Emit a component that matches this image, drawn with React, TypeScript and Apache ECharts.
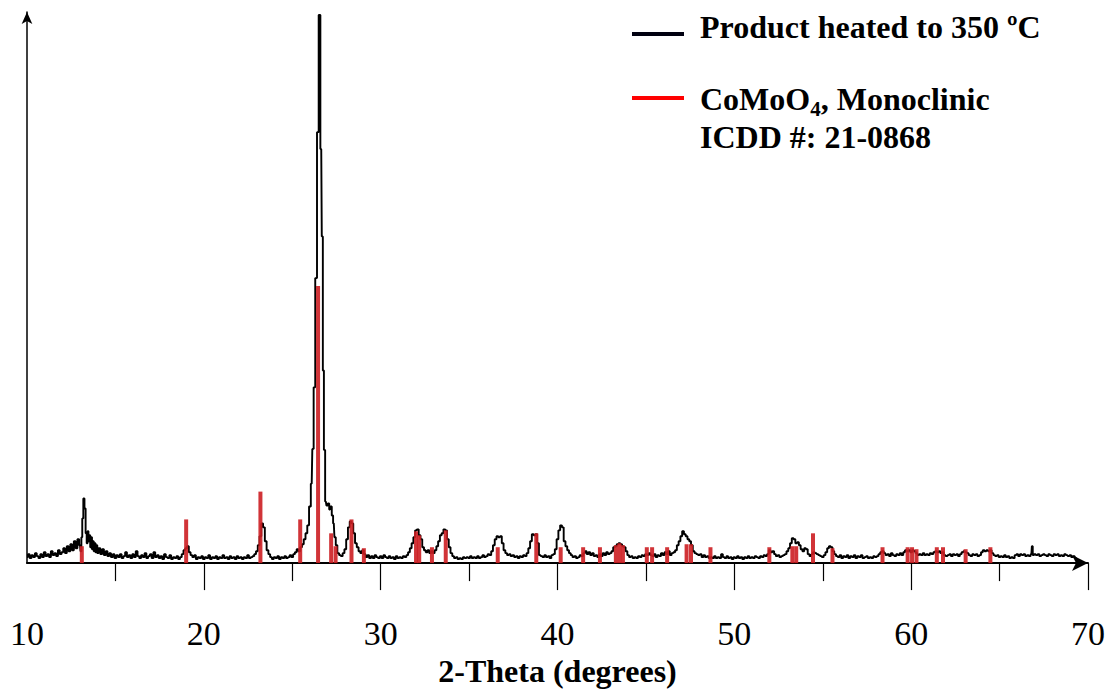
import React, { useEffect, useRef } from "react";
import * as echarts from "echarts";

// Measured XRD trace: [2-theta (deg), intensity (a.u.)]
const trace: [number, number][] = [
  [10.0,6],[10.1,9],[10.2,5],[10.3,8],[10.4,6],[10.5,10],[10.6,7],[10.7,5],[10.8,9],[10.9,6],
  [11.0,11],[11.1,7],[11.2,9],[11.3,6],[11.4,12],[11.5,8],[11.6,10],[11.7,7],[11.8,13],[11.9,9],
  [12.0,11],[12.1,15],[12.2,10],[12.3,17],[12.4,12],[12.5,19],[12.6,13],[12.7,22],[12.8,15],[12.9,24],
  [13.0,18],[13.05,12],[13.1,26],[13.15,45],[13.22,65],[13.28,55],[13.35,30],[13.4,20],[13.45,32],[13.5,22],
  [13.55,28],[13.6,16],[13.65,26],[13.7,14],[13.75,22],[13.8,12],[13.85,20],[13.9,11],[13.95,18],[14.0,10],
  [14.1,15],[14.2,9],[14.3,14],[14.4,8],[14.5,12],[14.6,7],[14.7,10],[14.8,6],[14.9,9],[15.0,5],
  [15.1,8],[15.2,6],[15.3,9],[15.4,5],[15.5,7],[15.6,11],[15.7,6],[15.8,8],[15.9,5],[16.0,9],
  [16.1,6],[16.2,12],[16.3,7],[16.4,5],[16.5,8],[16.6,6],[16.7,10],[16.8,5],[16.9,7],[17.0,9],
  [17.1,5],[17.2,11],[17.3,6],[17.4,8],[17.5,5],[17.6,7],[17.7,4],[17.8,9],[17.9,6],[18.0,5],
  [18.1,8],[18.2,4],[18.3,6],[18.4,5],[18.5,7],[18.6,4],[18.7,6],[18.8,9],[18.9,13],[19.0,15],
  [19.1,17],[19.2,11],[19.3,8],[19.4,6],[19.5,8],[19.6,4],[19.7,6],[19.8,5],[19.9,7],[20.0,4],
  [20.1,6],[20.2,5],[20.3,8],[20.4,4],[20.5,6],[20.6,5],[20.7,7],[20.8,4],[20.9,6],[21.0,5],
  [21.1,8],[21.2,5],[21.3,6],[21.4,4],[21.5,7],[21.6,5],[21.7,6],[21.8,4],[21.9,7],[22.0,5],
  [22.1,6],[22.2,4],[22.3,6],[22.4,5],[22.5,8],[22.6,5],[22.7,6],[22.8,7],[22.9,9],[23.0,12],
  [23.1,18],[23.2,27],[23.3,40],[23.4,36],[23.5,22],[23.6,13],[23.7,9],[23.8,6],[23.9,4],[24.0,6],
  [24.1,5],[24.2,7],[24.3,4],[24.4,6],[24.5,5],[24.6,7],[24.7,5],[24.8,6],[24.9,8],[25.0,6],
  [25.1,9],[25.2,11],[25.3,14],[25.4,12],[25.5,16],[25.6,19],[25.7,24],[25.8,30],[25.9,38],[26.0,57],
  [26.1,80],[26.17,115],[26.25,177],[26.35,287],[26.45,434],[26.54,552],[26.64,417],[26.7,329],[26.76,194],[26.82,114],
  [26.9,62],[26.97,58],[27.05,60],[27.13,54],[27.2,57],[27.27,48],[27.35,40],[27.42,26],[27.5,18],[27.6,10],
  [27.7,8],[27.8,7],[27.9,10],[28.0,14],[28.1,24],[28.2,36],[28.3,42],[28.4,40],[28.5,30],[28.6,20],
  [28.7,16],[28.8,12],[28.9,10],[29.0,13],[29.1,9],[29.2,6],[29.3,8],[29.4,5],[29.5,7],[29.6,5],
  [29.7,8],[29.8,6],[29.9,5],[30.0,7],[30.1,5],[30.2,8],[30.3,6],[30.4,5],[30.5,7],[30.6,5],
  [30.7,6],[30.8,4],[30.9,7],[31.0,5],[31.1,6],[31.2,5],[31.3,7],[31.4,6],[31.5,8],[31.6,11],
  [31.7,15],[31.8,20],[31.9,26],[32.0,33],[32.1,34],[32.2,28],[32.3,24],[32.4,16],[32.5,13],[32.6,11],
  [32.7,13],[32.8,10],[32.9,12],[33.0,10],[33.1,13],[33.2,17],[33.3,22],[33.4,28],[33.5,30],[33.6,34],
  [33.7,33],[33.8,24],[33.9,16],[34.0,10],[34.1,7],[34.2,5],[34.3,6],[34.4,4],[34.5,5],[34.6,4],
  [34.7,6],[34.8,5],[34.9,6],[35.0,5],[35.1,7],[35.2,5],[35.3,6],[35.4,5],[35.5,7],[35.6,5],
  [35.7,6],[35.8,8],[35.9,6],[36.0,7],[36.1,9],[36.2,8],[36.3,12],[36.4,18],[36.5,24],[36.6,27],
  [36.7,26],[36.8,27],[36.9,20],[37.0,13],[37.1,10],[37.2,8],[37.3,9],[37.4,7],[37.5,8],[37.6,6],
  [37.7,7],[37.8,5],[37.9,7],[38.0,6],[38.1,8],[38.2,7],[38.3,10],[38.4,15],[38.5,22],[38.6,29],
  [38.7,28],[38.8,29],[38.9,20],[39.0,8],[39.1,7],[39.2,6],[39.3,8],[39.4,6],[39.5,7],[39.6,5],
  [39.7,8],[39.8,9],[39.9,14],[40.0,24],[40.1,33],[40.2,38],[40.3,36],[40.4,22],[40.5,17],[40.6,13],
  [40.7,10],[40.8,8],[40.9,6],[41.0,7],[41.1,5],[41.2,6],[41.3,8],[41.4,7],[41.5,10],[41.6,12],
  [41.7,9],[41.8,11],[41.9,8],[42.0,10],[42.1,7],[42.2,8],[42.3,6],[42.4,9],[42.5,7],[42.6,10],
  [42.7,8],[42.8,11],[42.9,9],[43.0,10],[43.1,12],[43.2,16],[43.3,17],[43.4,19],[43.5,20],[43.6,19],
  [43.7,17],[43.8,16],[43.9,12],[44.0,8],[44.1,6],[44.2,7],[44.3,5],[44.4,6],[44.5,5],[44.6,7],
  [44.7,6],[44.8,8],[44.9,7],[45.0,9],[45.1,8],[45.2,10],[45.3,8],[45.4,7],[45.5,9],[45.6,6],
  [45.7,8],[45.8,7],[45.9,10],[46.0,8],[46.1,11],[46.2,9],[46.3,12],[46.4,8],[46.5,10],[46.6,11],
  [46.7,13],[46.8,18],[46.9,22],[47.0,27],[47.1,32],[47.2,29],[47.3,27],[47.4,24],[47.5,22],[47.6,18],
  [47.7,12],[47.8,10],[47.9,9],[48.0,8],[48.1,9],[48.2,6],[48.3,8],[48.4,6],[48.5,7],[48.6,5],
  [48.7,6],[48.8,5],[48.9,7],[49.0,5],[49.1,6],[49.2,5],[49.3,9],[49.4,6],[49.5,5],[49.6,7],
  [49.7,5],[49.8,6],[49.9,4],[50.0,6],[50.1,5],[50.2,7],[50.3,5],[50.4,6],[50.5,4],[50.6,6],
  [50.7,5],[50.8,7],[50.9,5],[51.0,6],[51.1,5],[51.2,7],[51.3,6],[51.4,5],[51.5,7],[51.6,6],
  [51.7,8],[51.8,7],[51.9,9],[52.0,13],[52.1,11],[52.2,12],[52.3,9],[52.4,7],[52.5,8],[52.6,6],
  [52.7,7],[52.8,8],[52.9,9],[53.0,12],[53.1,15],[53.2,20],[53.3,25],[53.4,24],[53.5,20],[53.6,21],
  [53.7,18],[53.8,14],[53.9,12],[54.0,15],[54.1,14],[54.2,9],[54.3,7],[54.4,9],[54.5,11],[54.6,10],
  [54.7,9],[54.8,8],[54.9,7],[55.0,6],[55.1,8],[55.2,11],[55.3,15],[55.4,17],[55.5,16],[55.6,12],
  [55.7,9],[55.8,7],[55.9,6],[56.0,8],[56.1,5],[56.2,7],[56.3,6],[56.4,8],[56.5,5],[56.6,7],
  [56.7,6],[56.8,8],[56.9,5],[57.0,7],[57.1,6],[57.2,8],[57.3,5],[57.4,6],[57.5,7],[57.6,5],
  [57.7,6],[57.8,5],[57.9,7],[58.0,6],[58.1,7],[58.2,9],[58.3,11],[58.4,12],[58.5,10],[58.6,8],
  [58.7,9],[58.8,7],[58.9,10],[59.0,8],[59.1,7],[59.2,9],[59.3,8],[59.4,10],[59.5,8],[59.6,11],
  [59.7,13],[59.8,12],[59.9,13],[60.0,11],[60.1,13],[60.2,12],[60.3,10],[60.4,8],[60.5,9],[60.6,8],
  [60.7,10],[60.8,8],[60.9,9],[61.0,8],[61.1,10],[61.2,9],[61.3,11],[61.4,12],[61.5,11],[61.6,12],
  [61.7,10],[61.8,11],[61.9,8],[62.0,7],[62.1,8],[62.2,9],[62.3,7],[62.4,9],[62.5,8],[62.6,9],
  [62.7,7],[62.8,9],[62.9,11],[63.0,12],[63.1,11],[63.2,10],[63.3,8],[63.4,7],[63.5,9],[63.6,8],
  [63.7,9],[63.8,7],[63.9,8],[64.0,11],[64.1,13],[64.2,12],[64.3,13],[64.4,12],[64.5,13],[64.6,10],
  [64.7,8],[64.8,7],[64.9,8],[65.0,6],[65.1,7],[65.2,6],[65.3,8],[65.4,6],[65.5,7],[65.6,5],
  [65.7,6],[65.8,5],[65.9,8],[66.0,9],[66.1,7],[66.2,9],[66.3,8],[66.4,9],[66.5,7],[66.6,8],
  [66.7,7],[66.8,9],[66.85,17],[66.9,8],[67.0,9],[67.1,8],[67.2,9],[67.3,7],[67.4,8],[67.5,9],
  [67.6,8],[67.7,7],[67.8,9],[67.9,8],[68.0,7],[68.1,9],[68.2,8],[68.3,9],[68.4,7],[68.5,8],
  [68.6,7],[68.7,9],[68.8,8],[68.9,7],[69.0,8],[69.1,6],[69.2,7],[69.3,5],[69.4,4],
];

// ICDD 21-0868 reference sticks: [2-theta, relative intensity]
const sticks: [number, number][] = [
  [13.1,17],[19.0,44],[23.2,72],[25.45,44],[26.46,279],[27.2,30],[27.45,17],[28.35,44],[29.05,15],
  [32.0,32],[32.18,28],[32.9,16],[33.68,33],[36.62,16],[38.8,30],[40.18,16],[41.45,16],[42.4,16],
  [43.3,18],[43.5,20],[43.7,18],[45.05,16],[45.35,16],[46.2,16],[47.3,19],[47.55,19],[48.65,16],
  [51.98,16],[53.28,17],[53.5,17],[54.45,30],[55.55,15],[58.38,16],[59.8,16],[60.05,16],[60.3,14],
  [61.45,16],[61.8,16],[63.08,14],[64.48,16],
];

const xTickValues = [20, 30, 40, 50, 60, 70];
const xLabelValues = [10, 20, 30, 40, 50, 60, 70];
const legendLabels = ["Product heated to 350 ºC", "CoMoO", "4", ", Monoclinic", "ICDD #: 21-0868"];
const axisTitle = "2-Theta (degrees)";

const SERIF = "'Liberation Serif', 'Times New Roman', serif";

function textWidth(t: string, font: string): number {
  const c = document.createElement("canvas").getContext("2d");
  if (!c) return t.length * 16;
  c.font = font;
  return c.measureText(t).width;
}

export default function App() {
  const ref = useRef<HTMLDivElement>(null);
  useEffect(() => {
    if (!ref.current) return;
    const chart = echarts.init(ref.current, null, { renderer: "svg" });
    const bigFont = `bold 32px ${SERIF}`;
    const w1 = textWidth(legendLabels[1], bigFont);
    const w2 = textWidth(legendLabels[2], `bold 21px ${SERIF}`);
    const lx = 700;
    chart.setOption({
      animation: false,
      backgroundColor: "#fff",
      grid: { left: 27, right: 24, top: 12, bottom: 125, containLabel: false },
      xAxis: {
        type: "value",
        min: 10,
        max: 70,
        interval: 10,
        axisLine: {
          show: true,
          symbol: ["none", "arrow"],
          symbolSize: [12, 16],
          lineStyle: { color: "#000", width: 2 },
        },
        axisTick: { show: true, length: 27, customValues: xTickValues, lineStyle: { color: "#000", width: 1.2 } },
        minorTick: { show: true, splitNumber: 2, length: 18, lineStyle: { color: "#000", width: 1.2 } },
        axisLabel: {
          customValues: xLabelValues,
          margin: 53,
          fontSize: 34,
          fontFamily: SERIF,
          color: "#000",
        },
        splitLine: { show: false },
        minorSplitLine: { show: false },
        name: axisTitle,
        nameLocation: "middle",
        nameGap: 90,
        nameTextStyle: { fontSize: 32, fontWeight: "bold", fontFamily: SERIF, color: "#000" },
      },
      yAxis: {
        type: "value",
        min: 0,
        max: 555,
        axisLine: {
          show: true,
          symbol: ["none", "arrow"],
          symbolSize: [8, 12],
          lineStyle: { color: "#000", width: 1.5 },
        },
        axisTick: { show: false },
        axisLabel: { show: false },
        splitLine: { show: false },
      },
      series: [
        {
          type: "line",
          data: trace,
          step: "middle",
          showSymbol: false,
          lineStyle: { color: "#000", width: 1.9 },
          z: 2,
        },
        {
          type: "bar",
          data: sticks,
          barWidth: 4,
          itemStyle: { color: "#cc1e22", opacity: 0.9 },
          z: 3,
        },
      ],
      graphic: [
        { type: "line", shape: { x1: 632, y1: 34, x2: 684, y2: 34 }, style: { stroke: "#000010", lineWidth: 4 } },
        { type: "line", shape: { x1: 632, y1: 98, x2: 684, y2: 98 }, style: { stroke: "#ff0000", lineWidth: 4 } },
        { type: "text", x: lx, y: 27, style: { text: legendLabels[0], font: bigFont, fill: "#000", verticalAlign: "middle" } },
        { type: "text", x: lx, y: 99, style: { text: legendLabels[1], font: bigFont, fill: "#000", verticalAlign: "middle" } },
        { type: "text", x: lx + w1, y: 109, style: { text: legendLabels[2], font: `bold 21px ${SERIF}`, fill: "#000", verticalAlign: "middle" } },
        { type: "text", x: lx + w1 + w2, y: 99, style: { text: legendLabels[3], font: bigFont, fill: "#000", verticalAlign: "middle" } },
        { type: "text", x: lx, y: 137, style: { text: legendLabels[4], font: bigFont, fill: "#000", verticalAlign: "middle" } },
      ],
    });
    return () => chart.dispose();
  }, []);
  return <div ref={ref} style={{ position: "absolute", left: 0, top: 0, width: 1112, height: 692 }} />;
}
